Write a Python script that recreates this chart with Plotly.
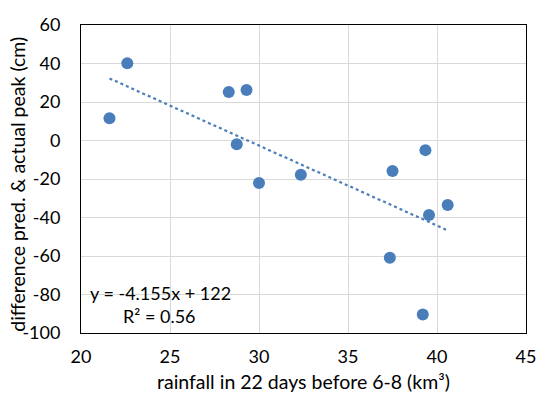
import plotly.graph_objects as go

rainfall = [21.6, 22.6, 28.3, 29.3, 28.75, 30.0, 32.35, 37.5, 39.35, 40.6, 39.55, 37.35, 39.2]
difference = [11.6, 40.1, 25.2, 26.2, -1.9, -22.1, -17.8, -15.9, -5.0, -33.5, -38.7, -60.9, -90.4]
slope = -4.155
intercept = 122
trend_x = [min(rainfall), max(rainfall)]
trend_y = [slope * v + intercept for v in trend_x]
x_ticks = [20, 25, 30, 35, 40, 45]
y_ticks = [-100, -80, -60, -40, -20, 0, 20, 40, 60]

FONT = "Lato"
blue = "#4A7EBB"

fig = go.Figure()
fig.add_trace(go.Scatter(x=trend_x, y=trend_y, mode="lines",
                         line=dict(color=blue, width=2.2, dash="dot"), hoverinfo="skip"))
fig.add_trace(go.Scatter(x=rainfall, y=difference, mode="markers",
                         marker=dict(color=blue, size=12)))

fig.update_layout(
    width=556, height=396, showlegend=False,
    margin=dict(l=80.5, r=29.5, t=24.5, b=62.5),
    plot_bgcolor="white", paper_bgcolor="white",
    font=dict(family=FONT, size=18, color="#000000"),
    xaxis=dict(range=[20, 45], tickvals=x_ticks, ticktext=[str(v) for v in x_ticks],
               showgrid=True, gridcolor="#D9D9D9", gridwidth=1, automargin=False,
               zeroline=False, showline=True, linecolor="black", linewidth=1, mirror=True,
               ticks="", ticklabelstandoff=7),
    yaxis=dict(range=[-100, 60], tickvals=y_ticks, ticktext=[str(v) for v in y_ticks],
               showgrid=True, gridcolor="#D9D9D9", gridwidth=1, automargin=False,
               zeroline=False, showline=True, linecolor="black", linewidth=1, mirror=True,
               ticks="", ticklabelstandoff=16),
)
fig.add_annotation(x=0.499, y=-0.157, xref="paper", yref="paper", xanchor="center", yanchor="middle",
                   text="rainfall in 22 days before 6-8 (km³)", showarrow=False,
                   font=dict(family=FONT, size=19.5))
fig.add_annotation(x=-0.142, y=0.484, xref="paper", yref="paper", xanchor="center", yanchor="middle",
                   text="difference pred. & actual peak (cm)", showarrow=False, textangle=-90,
                   font=dict(family=FONT, size=19.5))
fig.add_annotation(x=0.0168, y=0.131, xref="paper", yref="paper", xanchor="left", yanchor="middle",
                   text="y = -4.155x + 122", showarrow=False, font=dict(family=FONT, size=18))
fig.add_annotation(x=0.0908, y=0.0566, xref="paper", yref="paper", xanchor="left", yanchor="middle",
                   text="R² = 0.56", showarrow=False, font=dict(family=FONT, size=18))
fig.write_html("out.html", config={"displayModeBar": False},
               post_script="document.body.style.margin='0';document.body.style.overflow='hidden';")
